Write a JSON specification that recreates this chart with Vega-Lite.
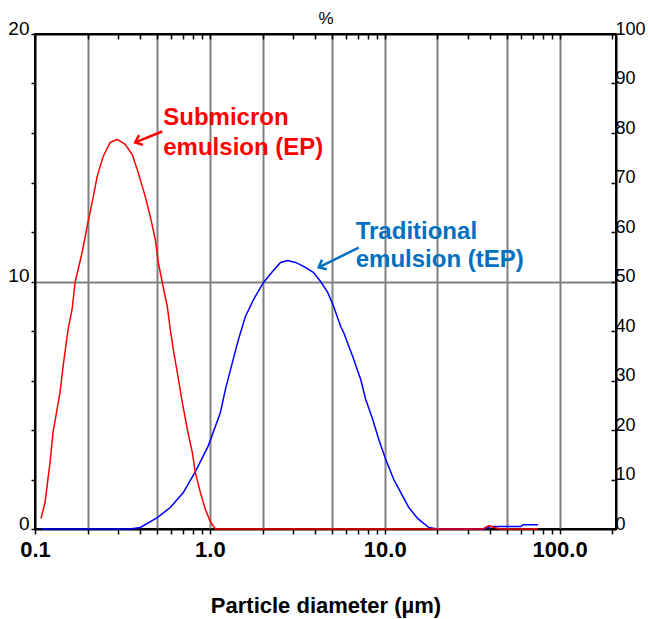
{
  "$schema": "https://vega.github.io/schema/vega-lite/v6.json",
  "width": 581,
  "height": 495,
  "autosize": {"type": "none"},
  "padding": {"left": 35, "top": 34, "right": 32, "bottom": 90},
  "background": "white",
  "config": {
    "view": {"stroke": "black", "strokeWidth": 2},
    "axis": {"domainColor": "black", "domainWidth": 2, "tickColor": "black", "tickWidth": 1.5, "labelColor": "black", "titleColor": "black"}
  },
  "datasets": {
    "curves": [
      {"series": "tEP", "d": 0.1082, "v": 0},
      {"series": "tEP", "d": 0.35, "v": 0},
      {"series": "tEP", "d": 0.3998, "v": 0.06},
      {"series": "tEP", "d": 0.5003, "v": 0.46},
      {"series": "tEP", "d": 0.5938, "v": 0.87},
      {"series": "tEP", "d": 0.7048, "v": 1.47},
      {"series": "tEP", "d": 0.8259, "v": 2.32},
      {"series": "tEP", "d": 0.9804, "v": 3.37},
      {"series": "tEP", "d": 1.1486, "v": 4.71},
      {"series": "tEP", "d": 1.2268, "v": 5.64},
      {"series": "tEP", "d": 1.3454, "v": 6.73},
      {"series": "tEP", "d": 1.4566, "v": 7.66},
      {"series": "tEP", "d": 1.5973, "v": 8.59},
      {"series": "tEP", "d": 1.7757, "v": 9.27},
      {"series": "tEP", "d": 2.0259, "v": 9.96},
      {"series": "tEP", "d": 2.2813, "v": 10.40},
      {"series": "tEP", "d": 2.5351, "v": 10.77},
      {"series": "tEP", "d": 2.7804, "v": 10.85},
      {"series": "tEP", "d": 3.0903, "v": 10.77},
      {"series": "tEP", "d": 3.4345, "v": 10.61},
      {"series": "tEP", "d": 3.9174, "v": 10.36},
      {"series": "tEP", "d": 4.2975, "v": 10.0},
      {"series": "tEP", "d": 4.7148, "v": 9.56},
      {"series": "tEP", "d": 5.1023, "v": 8.99},
      {"series": "tEP", "d": 5.5976, "v": 8.18},
      {"series": "tEP", "d": 5.821, "v": 7.94},
      {"series": "tEP", "d": 6.5554, "v": 6.97},
      {"series": "tEP", "d": 7.2862, "v": 6.04},
      {"series": "tEP", "d": 7.7847, "v": 5.23},
      {"series": "tEP", "d": 8.537, "v": 4.42},
      {"series": "tEP", "d": 9.2406, "v": 3.62},
      {"series": "tEP", "d": 10.13, "v": 2.81},
      {"series": "tEP", "d": 11.26, "v": 2.0},
      {"series": "tEP", "d": 12.35, "v": 1.47},
      {"series": "tEP", "d": 13.72, "v": 0.87},
      {"series": "tEP", "d": 15.45, "v": 0.42},
      {"series": "tEP", "d": 17.87, "v": 0.06},
      {"series": "tEP", "d": 20, "v": 0},
      {"series": "tEP", "d": 36.9, "v": 0},
      {"series": "tEP", "d": 40.5, "v": 0.1},
      {"series": "tEP", "d": 60.2, "v": 0.1},
      {"series": "tEP", "d": 61.8, "v": 0.17},
      {"series": "tEP", "d": 75.3, "v": 0.17},
      {"series": "EP", "d": 0.1082, "v": 0.42},
      {"series": "EP", "d": 0.1141, "v": 1.07},
      {"series": "EP", "d": 0.1219, "v": 2.69},
      {"series": "EP", "d": 0.1268, "v": 3.90},
      {"series": "EP", "d": 0.1391, "v": 5.52},
      {"series": "EP", "d": 0.1447, "v": 6.57},
      {"series": "EP", "d": 0.1546, "v": 8.06},
      {"series": "EP", "d": 0.1629, "v": 8.87},
      {"series": "EP", "d": 0.1695, "v": 9.96},
      {"series": "EP", "d": 0.1859, "v": 11.17},
      {"series": "EP", "d": 0.1986, "v": 12.22},
      {"series": "EP", "d": 0.2121, "v": 13.19},
      {"series": "EP", "d": 0.2266, "v": 14.24},
      {"series": "EP", "d": 0.2453, "v": 15.05},
      {"series": "EP", "d": 0.2691, "v": 15.62},
      {"series": "EP", "d": 0.2951, "v": 15.74},
      {"series": "EP", "d": 0.328, "v": 15.54},
      {"series": "EP", "d": 0.3597, "v": 15.13},
      {"series": "EP", "d": 0.3894, "v": 14.40},
      {"series": "EP", "d": 0.427, "v": 13.43},
      {"series": "EP", "d": 0.456, "v": 12.63},
      {"series": "EP", "d": 0.4872, "v": 11.70},
      {"series": "EP", "d": 0.507, "v": 10.77},
      {"series": "EP", "d": 0.5344, "v": 9.96},
      {"series": "EP", "d": 0.5706, "v": 8.99},
      {"series": "EP", "d": 0.5938, "v": 8.06},
      {"series": "EP", "d": 0.6179, "v": 7.25},
      {"series": "EP", "d": 0.6514, "v": 6.32},
      {"series": "EP", "d": 0.6958, "v": 5.11},
      {"series": "EP", "d": 0.7433, "v": 4.02},
      {"series": "EP", "d": 0.7937, "v": 3.09},
      {"series": "EP", "d": 0.8259, "v": 2.28},
      {"series": "EP", "d": 0.8824, "v": 1.47},
      {"series": "EP", "d": 0.9424, "v": 0.79},
      {"series": "EP", "d": 1.0066, "v": 0.30},
      {"series": "EP", "d": 1.0753, "v": 0},
      {"series": "EP", "d": 36.4, "v": 0},
      {"series": "EP", "d": 39.4, "v": 0.14},
      {"series": "EP", "d": 42.1, "v": 0.06},
      {"series": "EP", "d": 46.2, "v": 0},
      {"series": "EP", "d": 75.3, "v": 0}
    ],
    "labels": [
      {"series": "EP", "text": "Submicron", "d": 0.5413, "v": 16.34},
      {"series": "EP", "text": "emulsion (EP)", "d": 0.5413, "v": 15.13},
      {"series": "tEP", "text": "Traditional", "d": 6.82, "v": 11.70},
      {"series": "tEP", "text": "emulsion (tEP)", "d": 6.82, "v": 10.57}
    ],
    "arrows": [
      {"series": "EP", "d": 0.534, "v": 16.06, "d2": 0.374, "v2": 15.62},
      {"series": "tEP", "d": 7.10, "v": 11.37, "d2": 4.19, "v2": 10.57}
    ],
    "pct": [{"p": 0}, {"p": 100}]
  },
  "layer": [
    {
      "layer": [
        {
          "data": {"name": "curves"},
          "transform": [{"filter": "datum.series == 'tEP'"}],
          "mark": {"type": "line", "color": "#0000ff", "strokeWidth": 1.5},
          "encoding": {
            "x": {
              "field": "d", "type": "quantitative",
              "scale": {"type": "log", "domain": [0.1, 210], "nice": false},
              "axis": {
                "orient": "bottom",
                "values": [0.1,0.2,0.3,0.4,0.5,0.6,0.7,0.8,0.9,1,2,3,4,5,6,7,8,9,10,20,30,40,50,60,70,80,90,100,200],
                "labelExpr": "indexof([0.1,1,10,100], datum.value) >= 0 ? format(datum.value, '.1f') : ''",
                "labelFont": "Liberation Sans", "labelFontWeight": "bold", "labelFontSize": 22,
                "labelPadding": 5, "labelFlush": false, "labelOverlap": false, "labelBound": false,
                "tickSize": 5,
                "grid": true, "gridColor": "#808080", "gridWidth": 2,
                "gridOpacity": {"condition": {"test": "indexof([0.2,0.5,1,2,5,10,20,50,100], datum.value) >= 0", "value": 1}, "value": 0},
                "title": "Particle diameter (µm)", "titleFont": "Liberation Sans", "titleFontSize": 22, "titleFontWeight": "bold", "titlePadding": 35
              }
            },
            "y": {
              "field": "v", "type": "quantitative", "title": null,
              "scale": {"domain": [0, 20], "nice": false},
              "axis": {
                "orient": "left",
                "values": [0,1,2,3,4,5,6,7,8,9,10,11,12,13,14,15,16,17,18,19,20],
                "labelExpr": "datum.value % 10 == 0 ? datum.label : ''",
                "labelFont": "Liberation Sans", "labelFontSize": 19,
                "labelBaseline": "alphabetic", "labelFlush": false, "labelOverlap": false, "labelBound": false,
                "labelPadding": 2, "tickSize": 4,
                "grid": true, "gridColor": "#808080", "gridWidth": 2,
                "gridOpacity": {"condition": {"test": "datum.value == 10", "value": 1}, "value": 0},
                "title": null
              }
            }
          }
        },
        {
          "data": {"name": "curves"},
          "transform": [{"filter": "datum.series == 'EP'"}],
          "mark": {"type": "line", "color": "#ff0000", "strokeWidth": 1.5},
          "encoding": {
            "x": {"field": "d", "type": "quantitative", "axis": null},
            "y": {"field": "v", "type": "quantitative", "title": null}
          }
        },
        {
          "data": {"name": "curves"},
          "mark": {"type": "point", "opacity": 0},
          "encoding": {
            "x": {
              "field": "d", "type": "quantitative",
              "axis": {
                "orient": "top",
                "values": [0.1,0.2,0.3,0.4,0.5,0.6,0.7,0.8,0.9,1,2,3,4,5,6,7,8,9,10,20,30,40,50,60,70,80,90,100,200],
                "labels": false, "tickSize": -5, "grid": false,
                "title": "%", "titleFont": "Liberation Sans", "titleFontSize": 17, "titleFontWeight": "normal", "titlePadding": 6
              }
            },
            "y": {"field": "v", "type": "quantitative", "title": null}
          }
        },
        {
          "data": {"name": "labels"},
          "transform": [{"filter": "datum.series == 'EP'"}],
          "mark": {"type": "text", "align": "left", "baseline": "alphabetic", "font": "Liberation Sans", "fontWeight": "bold", "fontSize": 24, "color": "#ff0000"},
          "encoding": {
            "x": {"field": "d", "type": "quantitative", "axis": null},
            "y": {"field": "v", "type": "quantitative", "title": null},
            "text": {"field": "text"}
          }
        },
        {
          "data": {"name": "labels"},
          "transform": [{"filter": "datum.series == 'tEP'"}],
          "mark": {"type": "text", "align": "left", "baseline": "alphabetic", "font": "Liberation Sans", "fontWeight": "bold", "fontSize": 24, "color": "#0070c0"},
          "encoding": {
            "x": {"field": "d", "type": "quantitative", "axis": null},
            "y": {"field": "v", "type": "quantitative", "title": null},
            "text": {"field": "text"}
          }
        },
        {
          "data": {"name": "arrows"},
          "transform": [{"filter": "datum.series == 'EP'"}],
          "mark": {"type": "rule", "color": "#ff0000", "strokeWidth": 2.5},
          "encoding": {
            "x": {"field": "d", "type": "quantitative", "axis": null},
            "y": {"field": "v", "type": "quantitative", "title": null},
            "x2": {"field": "d2"},
            "y2": {"field": "v2"}
          }
        },
        {
          "data": {"name": "arrows"},
          "transform": [{"filter": "datum.series == 'tEP'"}],
          "mark": {"type": "rule", "color": "#0070c0", "strokeWidth": 2.5},
          "encoding": {
            "x": {"field": "d", "type": "quantitative", "axis": null},
            "y": {"field": "v", "type": "quantitative", "title": null},
            "x2": {"field": "d2"},
            "y2": {"field": "v2"}
          }
        },
        {
          "data": {"name": "arrows"},
          "transform": [{"filter": "datum.series == 'EP'"}],
          "mark": {"type": "point", "shape": "M -1 1.2 L 0 0 L 1 1.2", "filled": false, "angle": 248, "size": 110, "strokeWidth": 2.5, "color": "#ff0000", "opacity": 1},
          "encoding": {
            "x": {"field": "d2", "type": "quantitative", "axis": null},
            "y": {"field": "v2", "type": "quantitative", "title": null}
          }
        },
        {
          "data": {"name": "arrows"},
          "transform": [{"filter": "datum.series == 'tEP'"}],
          "mark": {"type": "point", "shape": "M -1 1.2 L 0 0 L 1 1.2", "filled": false, "angle": 243, "size": 110, "strokeWidth": 2.5, "color": "#0070c0", "opacity": 1},
          "encoding": {
            "x": {"field": "d2", "type": "quantitative", "axis": null},
            "y": {"field": "v2", "type": "quantitative", "title": null}
          }
        }
      ],
      "resolve": {"axis": {"x": "independent"}}
    },
    {
      "data": {"name": "pct"},
      "mark": {"type": "point", "opacity": 0},
      "encoding": {
        "y": {
          "field": "p", "type": "quantitative",
          "scale": {"domain": [0, 100], "nice": false},
          "axis": {
            "orient": "right",
            "values": [0,10,20,30,40,50,60,70,80,90,100],
            "labelFont": "Liberation Sans", "labelFontSize": 18,
            "labelBaseline": "alphabetic", "labelFlush": false, "labelOverlap": false, "labelBound": false,
            "tickSize": -5, "labelPadding": 4,
            "grid": false, "title": null
          }
        }
      }
    }
  ],
  "resolve": {"scale": {"y": "independent"}, "axis": {"y": "independent"}}
}
